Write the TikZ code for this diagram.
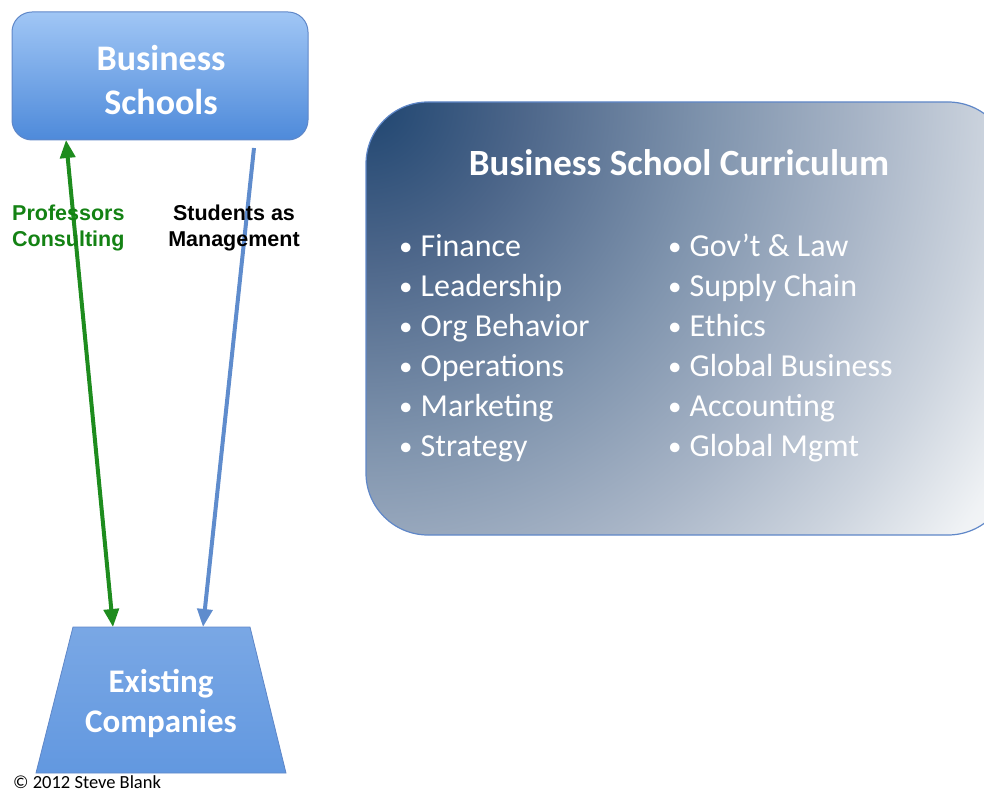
\documentclass[tikz,border=0pt]{standalone}
\usepackage{fontspec}
\setmainfont{Carlito}
\newfontfamily\arialfont{Liberation Sans}
\usetikzlibrary{arrows.meta}
\definecolor{bstop}{RGB}{160,198,245}
\definecolor{bsbot}{RGB}{78,138,218}
\definecolor{bsedge}{RGB}{95,135,200}
\definecolor{ecfill}{RGB}{98,152,224}
\definecolor{greenarrow}{RGB}{30,140,30}
\definecolor{bluearrow}{RGB}{95,140,205}
\definecolor{greentext}{RGB}{20,130,20}
\pgfdeclareradialshading{curad}{\pgfpoint{0bp}{0bp}}{%
  rgb(0bp)=(0.12,0.27,0.44);
  rgb(5bp)=(0.30,0.40,0.54);
  rgb(11bp)=(0.50,0.58,0.68);
  rgb(16bp)=(0.66,0.71,0.78);
  rgb(20bp)=(0.80,0.83,0.87);
  rgb(23.5bp)=(0.94,0.95,0.96);
  rgb(25bp)=(0.97,0.97,0.98);
  rgb(50bp)=(0.97,0.97,0.98)}
\newcommand{\blt}{{\fontsize{27}{27}\selectfont\raisebox{1pt}{•}}\hspace{8pt}}
\tikzset{
  boxtext/.style={text=white,font=\bfseries\fontsize{33}{40}\selectfont,align=center},
  itemtext/.style={text=white,font=\fontsize{32}{40}\selectfont,align=left,anchor=north west,inner sep=0pt},
  arrowlabel/.style={font=\arialfont\bfseries\fontsize{21.5}{26}\selectfont,inner sep=0pt},
  conn/.style={line width=4pt,-{Triangle[length=18pt,width=15pt]}},
}
\begin{document}
\begin{tikzpicture}[x=1pt,y=-1pt]
\useasboundingbox (0,0) rectangle (984,791);
% Business Schools box
\shade[top color=bstop,bottom color=bsbot,rounded corners=20pt,draw=bsedge,line width=1pt]
  (12,12) rectangle (308,140);
\node[boxtext,font=\bfseries\fontsize{36}{44}\selectfont] (bs) at (161,80) {Business\\Schools};
% Existing Companies trapezium
\coordinate (tl) at (73,627);
\coordinate (tr) at (250,627);
\coordinate (br) at (286,773);
\coordinate (bl) at (36,773);
\shade[top color=ecfill!85!white,bottom color=ecfill,draw=bsedge,line width=0.8pt] (tl) -- (tr) -- (br) -- (bl) -- cycle;
\node[boxtext] (ec) at (161,703) {Existing\\Companies};
% Curriculum box
\begin{scope}
  \clip[rounded corners=62pt] (366,102) rectangle (1010,535);
  \shade[shading=curad] (-414,-678) rectangle (1146,882);
\end{scope}
\draw[rounded corners=62pt,draw=bsedge,line width=1.2pt] (366,102) rectangle (1010,535);
\node[text=white,font=\bfseries\fontsize{37}{40}\selectfont] (title) at (679,163) {Business School Curriculum};
\node[itemtext] (left) at (399,234) {\blt Finance\\\blt Leadership\\\blt Org Behavior\\\blt Operations\\\blt Marketing\\\blt Strategy};
\node[itemtext] (right) at (668,234) {\blt Gov’t \& Law\\\blt Supply Chain\\\blt Ethics\\\blt Global Business\\\blt Accounting\\\blt Global Mgmt};
% arrow end points
\coordinate (gtop) at (66,140);
\coordinate (gbot) at (113,627);
\coordinate (btop) at (254,148);
\coordinate (bbot) at (203,627);
\draw[conn,greenarrow,{Triangle[length=18pt,width=15pt]}-{Triangle[length=18pt,width=15pt]}] (gtop) -- (gbot);
\draw[conn,bluearrow] (btop) -- (bbot);
% labels
\node[arrowlabel,text=greentext,align=left,anchor=west] (prof) at (12,228) {Professors\\Consulting};
\node[arrowlabel,text=black,align=center] (stud) at (234,228) {Students as\\Management};
% copyright
\node[font=\fontsize{18.5}{20}\selectfont,anchor=west,inner sep=0pt] (copy) at (13,782) {© 2012 Steve Blank};
\end{tikzpicture}
\end{document}
